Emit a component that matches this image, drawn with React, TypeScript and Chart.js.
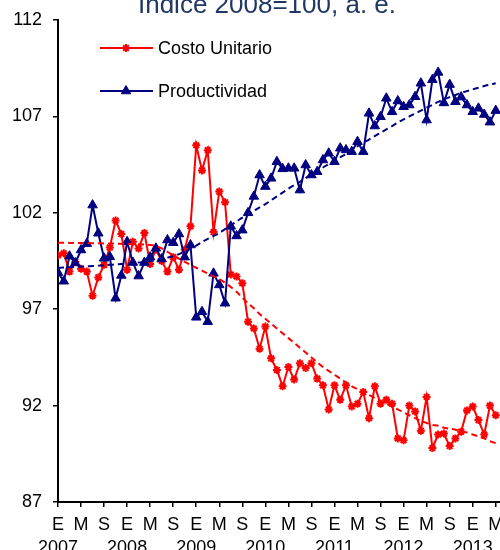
import React, { useEffect, useRef } from 'react';
import { Chart, registerables } from 'chart.js';

Chart.register(...registerables);

const FONT = '"Liberation Sans", Arial, Helvetica, sans-serif';
const titleText = 'Índice 2008=100, a. e.';
const seriesNames = ['Costo Unitario', 'Productividad'];
const startYear = 2007;
const monthLetters = ['E', 'F', 'M', 'A', 'M', 'J', 'J', 'A', 'S', 'O', 'N', 'D'];
const tickStepMonths = 4;
const yTicks = [87, 92, 97, 102, 107, 112];

// Monthly values, Jan 2007 - May 2013
const costoUnitario = [
  99.8, 99.9, 98.95, 99.45, 99.1, 98.95, 97.7, 98.65, 99.3, 100.2, 101.6, 100.9,
  99.05, 100.5, 100.15, 100.95, 99.35, 100.1, 99.5, 98.95, 99.7, 99.05, 100.1, 101.3,
  105.5, 104.2, 105.25, 101.0, 103.1, 102.55, 98.8, 98.7, 98.35, 96.35, 96.0, 94.95,
  96.1, 94.45, 93.85, 93.0, 94.0, 93.35, 94.2, 93.95, 94.2, 93.4, 93.05, 91.8,
  93.05, 92.3, 93.05, 91.95, 92.1, 92.7, 91.35, 93.0, 92.1, 92.3, 92.1, 90.3,
  90.2, 92.0, 91.7, 90.7, 92.45, 89.8, 90.5, 90.55, 89.9, 90.3, 90.65, 91.75,
  91.95, 91.25, 90.5, 92.0, 91.5,
];

const productividad = [
  98.9, 98.45, 99.75, 99.4, 100.07, 100.4, 102.4, 100.94, 99.64, 99.72, 97.57, 98.75,
  100.5, 99.42, 98.72, 99.42, 99.7, 100.16, 99.6, 100.59, 100.45, 100.9, 99.7, 100.33,
  96.58, 96.87, 96.35, 98.86, 98.26, 97.31, 101.3, 100.8, 101.1, 102.0, 102.85, 103.96,
  103.36, 103.79, 104.65, 104.28, 104.31, 104.31, 103.18, 104.48, 103.96, 104.13, 104.74, 105.09,
  104.65, 105.35, 105.26, 105.17, 105.69, 105.17, 107.16, 106.5, 106.98, 107.94, 107.24, 107.8,
  107.5, 107.59, 108.02, 108.72, 106.81, 108.9, 109.28, 107.7, 108.65, 107.76, 108.0, 107.59,
  107.24, 107.42, 107.1, 106.7, 107.3,
];

const costoTendencia = [
  100.45, 100.45, 100.44, 100.44, 100.43, 100.43, 100.42, 100.42, 100.41, 100.41, 100.4, 100.4,
  100.39, 100.38, 100.37, 100.35, 100.33, 100.28, 100.15, 99.98, 99.8, 99.62, 99.45, 99.3,
  99.15, 99.0, 98.85, 98.7, 98.55, 98.37, 98.15, 97.9, 97.6, 97.3, 97.05, 96.75,
  96.5, 96.25, 96.0, 95.75, 95.5, 95.25, 95.0, 94.75, 94.5, 94.25, 94.0, 93.8,
  93.6, 93.4, 93.2, 93.0, 92.85, 92.7, 92.55, 92.4, 92.25, 92.1, 91.95, 91.8,
  91.65, 91.5, 91.35, 91.2, 91.1, 91.0, 90.95, 90.85, 90.8, 90.75, 90.65, 90.6,
  90.5, 90.4, 90.3, 90.15, 90.05,
];

const productividadTendencia = [
  99.15, 99.16, 99.18, 99.19, 99.21, 99.22, 99.24, 99.26, 99.28, 99.3, 99.32, 99.34,
  99.36, 99.39, 99.42, 99.45, 99.5, 99.55, 99.6, 99.67, 99.75, 99.86, 99.98, 100.13,
  100.3, 100.48, 100.65, 100.8, 100.95, 101.15, 101.35, 101.55, 101.75, 101.93, 102.1, 102.28,
  102.45, 102.65, 102.85, 103.05, 103.25, 103.43, 103.6, 103.8, 104.0, 104.18, 104.35, 104.53,
  104.7, 104.88, 105.05, 105.25, 105.45, 105.63, 105.8, 105.98, 106.15, 106.33, 106.5, 106.68,
  106.85, 107.0, 107.15, 107.3, 107.45, 107.6, 107.75, 107.88, 108.0, 108.11, 108.22, 108.31,
  108.4, 108.49, 108.58, 108.65, 108.72,
];

const RED = '#FF0000';
const NAVY = '#000080';

function toPoints(values: number[]) {
  return values.map((y, i) => ({ x: i, y }));
}

function drawStar(ctx: CanvasRenderingContext2D, x: number, y: number, r: number) {
  ctx.beginPath();
  ctx.moveTo(x - r, y); ctx.lineTo(x + r, y);
  ctx.moveTo(x, y - r); ctx.lineTo(x, y + r);
  const d = r * Math.SQRT1_2;
  ctx.moveTo(x - d, y - d); ctx.lineTo(x + d, y + d);
  ctx.moveTo(x - d, y + d); ctx.lineTo(x + d, y - d);
  ctx.stroke();
}

function drawTriangle(ctx: CanvasRenderingContext2D, x: number, y: number, r: number) {
  ctx.beginPath();
  for (let k = 0; k < 3; k++) {
    const a = (k * 2 * Math.PI) / 3;
    const px = x + Math.sin(a) * r;
    const py = y - Math.cos(a) * r;
    if (k === 0) ctx.moveTo(px, py); else ctx.lineTo(px, py);
  }
  ctx.closePath();
  ctx.fill();
  ctx.stroke();
}

const overlayPlugin = {
  id: 'overlayTitleLegend',
  afterDraw(chart: any) {
    const ctx: CanvasRenderingContext2D = chart.ctx;
    ctx.save();
    // title (partly cut off at top)
    ctx.font = `26px ${FONT}`;
    ctx.fillStyle = '#203864';
    ctx.textAlign = 'center';
    ctx.textBaseline = 'alphabetic';
    ctx.fillText(titleText, 267, 13);

    // legend
    const items = [
      { label: seriesNames[0], color: RED, kind: 'star', y: 48 },
      { label: seriesNames[1], color: NAVY, kind: 'triangle', y: 91 },
    ];
    ctx.font = `18px ${FONT}`;
    ctx.textAlign = 'left';
    ctx.textBaseline = 'middle';
    for (const it of items) {
      ctx.strokeStyle = it.color;
      ctx.fillStyle = it.color;
      ctx.lineWidth = 2;
      ctx.beginPath();
      ctx.moveTo(100, it.y);
      ctx.lineTo(153, it.y);
      ctx.stroke();
      if (it.kind === 'star') {
        drawStar(ctx, 126, it.y, 4);
      } else {
        ctx.lineWidth = 1;
        drawTriangle(ctx, 126, it.y, 5.5);
      }
      ctx.fillStyle = '#000';
      ctx.fillText(it.label, 158, it.y + 1);
    }
    ctx.restore();
  },
};

export default function App() {
  const canvasRef = useRef<HTMLCanvasElement | null>(null);

  useEffect(() => {
    if (!canvasRef.current) return;
    const lastIndex = costoUnitario.length - 1;
    const chart = new Chart(canvasRef.current, {
      type: 'line',
      data: {
        datasets: [
          {
            label: seriesNames[0],
            data: toPoints(costoUnitario),
            borderColor: RED,
            backgroundColor: RED,
            borderWidth: 2,
            pointStyle: 'star',
            pointRadius: 4,
            pointBorderWidth: 2,
            pointBorderColor: RED,
            tension: 0,
            order: 4,
          },
          {
            label: seriesNames[1],
            data: toPoints(productividad),
            borderColor: NAVY,
            backgroundColor: NAVY,
            borderWidth: 2,
            pointStyle: 'triangle',
            pointRadius: 5.5,
            pointBorderWidth: 1,
            pointBackgroundColor: NAVY,
            pointBorderColor: NAVY,
            tension: 0,
            order: 3,
          },
          {
            label: seriesNames[0] + ' tendencia',
            data: toPoints(costoTendencia),
            borderColor: RED,
            borderWidth: 2,
            borderDash: [6, 4],
            pointRadius: 0,
            tension: 0.3,
            order: 2,
          },
          {
            label: seriesNames[1] + ' tendencia',
            data: toPoints(productividadTendencia),
            borderColor: NAVY,
            borderWidth: 2,
            borderDash: [6, 4],
            pointRadius: 0,
            tension: 0.3,
            order: 1,
          },
        ],
      },
      options: {
        responsive: false,
        animation: false,
        devicePixelRatio: 1,
        layout: { autoPadding: false, padding: { top: 20, right: 0, bottom: 0, left: 0 } },
        plugins: {
          legend: { display: false },
          tooltip: { enabled: false },
          title: { display: false },
        },
        scales: {
          x: {
            type: 'linear',
            min: 0,
            max: lastIndex + 0.74,
            afterBuildTicks: (scale: any) => {
              const t = [];
              for (let v = 0; v <= lastIndex; v += tickStepMonths) t.push({ value: v });
              scale.ticks = t;
            },
            ticks: {
              autoSkip: false,
              maxRotation: 0,
              minRotation: 0,
              includeBounds: false,
              color: '#000',
              padding: 7,
              font: { family: FONT, size: 18, lineHeight: 1.25 },
              callback: (value: any) => {
                const v = Number(value);
                const m = v % 12;
                const letter = monthLetters[m];
                return m === 0 ? [letter, String(startYear + v / 12)] : letter;
              },
            },
            grid: { drawOnChartArea: false, drawTicks: true, tickLength: 5, color: '#000', lineWidth: 1.5 },
            border: { display: true, color: '#000', width: 2 },
            afterFit: (scale: any) => {
              scale.height = 48;
              scale.paddingLeft = 0;
              scale.paddingRight = 0;
            },
          },
          y: {
            min: yTicks[0],
            max: yTicks[yTicks.length - 1],
            afterBuildTicks: (scale: any) => {
              scale.ticks = yTicks.map((v) => ({ value: v }));
            },
            ticks: {
              color: '#000',
              padding: 11,
              font: { family: FONT, size: 18 },
            },
            grid: { drawOnChartArea: false, drawTicks: true, tickLength: 5, color: '#000', lineWidth: 1.5 },
            border: { display: true, color: '#000', width: 2 },
            afterFit: (scale: any) => {
              scale.width = 58;
              scale.paddingTop = 0;
              scale.paddingBottom = 0;
            },
          },
        },
      },
      plugins: [overlayPlugin],
    } as any);
    return () => chart.destroy();
  }, []);

  return (
    <div style={{ position: 'fixed', left: 0, top: 0, width: 500, height: 550, background: '#fff' }}>
      <canvas ref={canvasRef} width={500} height={550} style={{ display: 'block' }} />
    </div>
  );
}
